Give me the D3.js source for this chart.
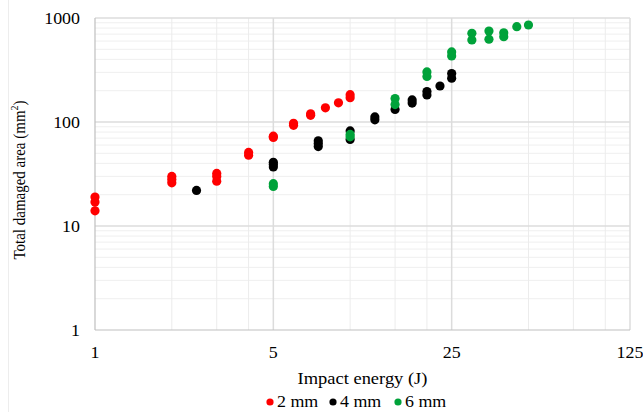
<!DOCTYPE html>
<html>
<head>
<meta charset="utf-8">
<script src="https://cdn.jsdelivr.net/npm/d3@7"></script>
<style>
  html, body { margin: 0; padding: 0; background: #fff; }
  svg { display: block; }
</style>
</head>
<body>
<svg id="chart" width="643" height="412"></svg>
<script>
// ---- data ----
const seriesNames = ["2 mm", "4 mm", "6 mm"];
const seriesColors = ["#ff0000", "#000000", "#00a23a"];

const energy2mm = [1, 1, 1, 2, 2, 2, 3, 3, 3, 4, 4, 5, 5, 6, 6, 7, 7, 8, 9, 10, 10];
const area2mm   = [19, 17, 14, 30, 28, 26, 32, 30, 27, 51, 48, 73, 71, 97, 93, 120, 116, 137, 153, 183, 171];

const energy4mm = [2.5, 5, 5, 5, 7.5, 7.5, 7.5, 10, 10, 12.5, 12.5, 15, 17.5, 17.5, 20, 20, 22.5, 25, 25];
const area4mm   = [22, 41, 39, 37, 66, 62, 58, 82, 68, 112, 105, 132, 163, 152, 196, 182, 222, 292, 264];

const energy6mm = [5, 5, 10, 10, 15, 15, 20, 20, 25, 25, 30, 30, 35, 35, 40, 40, 45, 50];
const area6mm   = [25.5, 24, 76, 72, 168, 147, 303, 274, 472, 432, 712, 616, 748, 626, 720, 662, 826, 856];

const xTicks = [1, 5, 25, 125];
const xMinor = [2, 3, 4, 10, 15, 20, 50, 75, 100];
const yTicks = [1, 10, 100, 1000];

const xTitle = "Impact energy (J)";

// ---- layout ----
const FONT = "'Liberation Serif', 'Times New Roman', 'DejaVu Serif', serif";
const svg = d3.select("#chart");
const L = 95, R = 630, T = 18, B = 330;
const sx = 1.12; // horizontal stretch of text seen in reference

const x = d3.scaleLog().base(5).domain([1, 125]).range([L, R]);
const y = d3.scaleLog().domain([1, 1000]).range([B, T]);

// faint chart-area border on the left
svg.append("line").attr("x1", 8.5).attr("x2", 8.5).attr("y1", 0).attr("y2", 412)
  .attr("stroke", "#ededed").attr("stroke-width", 1);

// minor y grid
const yMinor = [];
[1, 10, 100].forEach(d => { for (let k = 2; k <= 9; k++) yMinor.push(d * k); });

const grid = svg.append("g");
grid.selectAll(".ymin").data(yMinor).enter().append("line")
  .attr("x1", L).attr("x2", R).attr("y1", d => y(d)).attr("y2", d => y(d))
  .attr("stroke", "#efefef").attr("stroke-width", 1);
grid.selectAll(".xmin").data(xMinor).enter().append("line")
  .attr("x1", d => x(d)).attr("x2", d => x(d)).attr("y1", T).attr("y2", B)
  .attr("stroke", "#ececec").attr("stroke-width", 1);
grid.selectAll(".ymaj").data(yTicks.slice(1)).enter().append("line")
  .attr("x1", L).attr("x2", R).attr("y1", d => y(d)).attr("y2", d => y(d))
  .attr("stroke", "#dcdcdc").attr("stroke-width", 1.5);
grid.selectAll(".xmaj").data(xTicks.slice(1)).enter().append("line")
  .attr("x1", d => x(d)).attr("x2", d => x(d)).attr("y1", T).attr("y2", B)
  .attr("stroke", "#dcdcdc").attr("stroke-width", 1.5);

// axes lines
svg.append("line").attr("x1", L).attr("x2", L).attr("y1", T).attr("y2", B)
  .attr("stroke", "#bfbfbf").attr("stroke-width", 1.2);
svg.append("line").attr("x1", L).attr("x2", R).attr("y1", B).attr("y2", B)
  .attr("stroke", "#bfbfbf").attr("stroke-width", 1.2);

// tick labels
const fs = 16;
function stretchedText(g, tx, ty, str, anchor, size) {
  return g.append("g").attr("transform", `translate(${tx},${ty}) scale(${sx},1)`)
    .append("text").attr("text-anchor", anchor).attr("font-size", size)
    .attr("font-family", FONT).attr("fill", "#000")
    .attr("dy", "0.35em").text(str);
}
const lab = svg.append("g");
yTicks.forEach(d => stretchedText(lab, 80, y(d), String(d), "end", fs));
xTicks.forEach(d => stretchedText(lab, x(d), 352, String(d), "middle", fs));

// axis titles
stretchedText(svg, (L + R) / 2, 378, xTitle, "middle", 16.5);
const yt = svg.append("g").attr("transform", `translate(19,180) scale(${sx},1) rotate(-90)`)
  .append("text").attr("text-anchor", "middle").attr("dy", "0.35em")
  .attr("font-family", FONT).attr("fill", "#000")
  .attr("font-size", 15);
yt.append("tspan").text("Total damaged area (mm");
yt.append("tspan").attr("font-size", 10).attr("dy", -6).text("2");
yt.append("tspan").attr("dy", 6).text(")");

// points
const sets = [
  d3.zip(energy2mm, area2mm),
  d3.zip(energy4mm, area4mm),
  d3.zip(energy6mm, area6mm)
];
sets.forEach((pts, i) => {
  svg.append("g").selectAll("circle").data(pts).enter().append("circle")
    .attr("cx", d => x(d[0])).attr("cy", d => y(d[1])).attr("r", 4.6)
    .attr("fill", seriesColors[i]);
});

// legend
const legendX = [270, 333, 398];
const leg = svg.append("g");
seriesNames.forEach((n, i) => {
  leg.append("circle").attr("cx", legendX[i]).attr("cy", 402).attr("r", 3.6).attr("fill", seriesColors[i]);
  stretchedText(leg, legendX[i] + 7, 401, n, "start", 16);
});
</script>
</body>
</html>
